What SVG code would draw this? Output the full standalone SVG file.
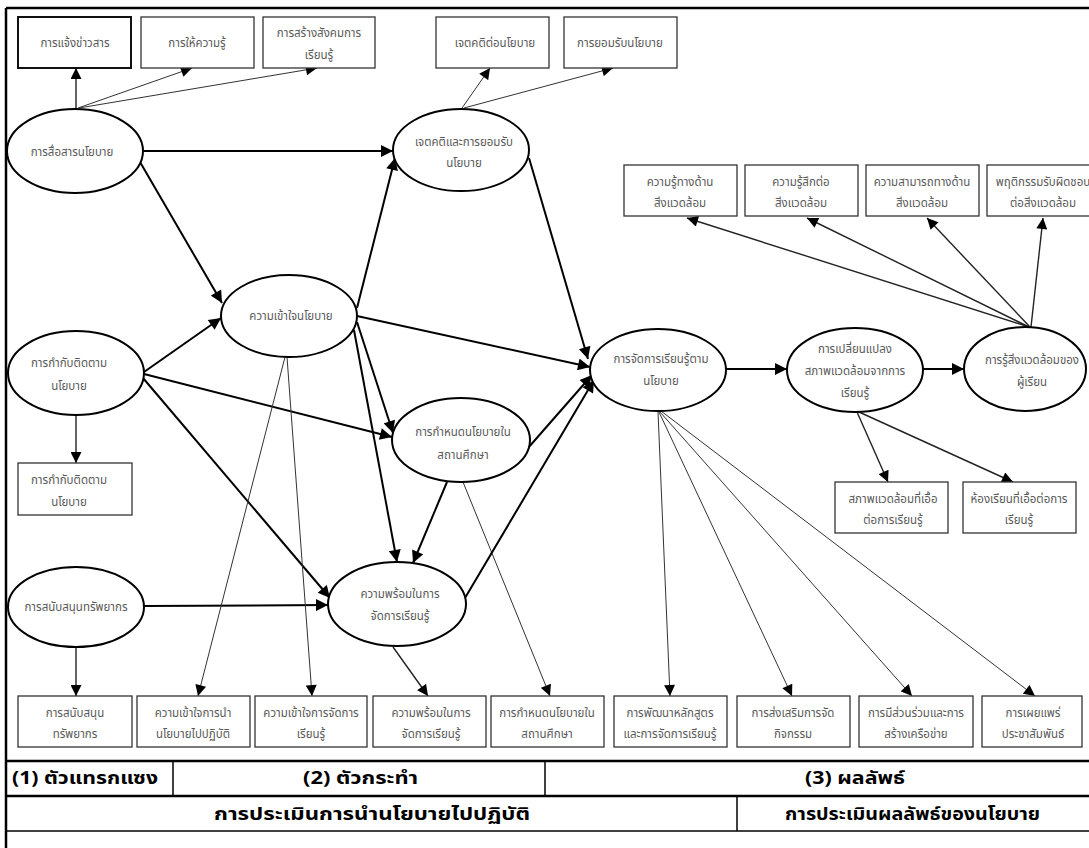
<svg xmlns="http://www.w3.org/2000/svg" width="1089" height="848" viewBox="0 0 1089 848">
<defs>
<marker id="ah" viewBox="0 0 10 10" refX="10" refY="5" markerWidth="13" markerHeight="12" markerUnits="userSpaceOnUse" orient="auto"><path d="M0,0 L10,5 L0,10 z" fill="#000"/></marker>
<marker id="ahs" viewBox="0 0 10 10" refX="10" refY="5" markerWidth="12" markerHeight="11" markerUnits="userSpaceOnUse" orient="auto"><path d="M0,0 L10,5 L0,10 z" fill="#000"/></marker>
</defs>
<style>
.bx{fill:#fff;stroke:#333;stroke-width:1.3}
.bx2{fill:#fff;stroke:#111;stroke-width:2}
.el{fill:#fff;stroke:#000;stroke-width:2}
.t{font-family:"Noto Sans Thai","Noto Sans","DejaVu Sans",sans-serif;font-size:11.5px;fill:#5a5a5a;text-anchor:middle}
.hd{font-family:"Noto Sans Thai","Noto Sans","DejaVu Sans",sans-serif;font-size:17px;font-weight:bold;fill:#000}
.k{stroke:#000;stroke-width:2;fill:none;marker-end:url(#ah)}
.m{stroke:#222;stroke-width:1.4;fill:none;marker-end:url(#ahs)}
.n{stroke:#333;stroke-width:1;fill:none;marker-end:url(#ahs)}
.fr{stroke:#000;stroke-width:2.5;fill:none}
.tl{stroke:#000;stroke-width:1.5;fill:none}
</style>
<rect x="0" y="0" width="1089" height="848" fill="#fff"/>
<g id="frame">
<line class="fr" x1="6" y1="8" x2="1089" y2="8"/>
<line class="fr" x1="6" y1="8" x2="6" y2="848"/>
</g>
<g id="connectors">
<line class="m" x1="76" y1="108" x2="76" y2="68"/>
<line class="n" x1="78" y1="108" x2="192" y2="68"/>
<line class="n" x1="79" y1="108" x2="317" y2="68"/>
<line class="n" x1="462" y1="108" x2="490" y2="68"/>
<line class="n" x1="464" y1="108" x2="613" y2="68"/>
<line class="k" x1="144" y1="151" x2="393" y2="151"/>
<line class="k" x1="140" y1="162" x2="222" y2="303"/>
<line class="k" x1="144" y1="372" x2="221" y2="318"/>
<line class="k" x1="144" y1="374" x2="392" y2="437"/>
<line class="k" x1="143" y1="378" x2="330" y2="598"/>
<line class="m" x1="76" y1="415" x2="76" y2="463"/>
<line class="k" x1="144" y1="606" x2="328" y2="605"/>
<line class="m" x1="76" y1="648" x2="76" y2="696"/>
<line class="k" x1="357" y1="308" x2="395" y2="158"/>
<line class="k" x1="357" y1="316" x2="590" y2="367"/>
<line class="k" x1="357" y1="322" x2="393" y2="433"/>
<line class="k" x1="354" y1="330" x2="397" y2="562"/>
<line class="n" x1="285" y1="357" x2="198" y2="696"/>
<line class="n" x1="287" y1="357" x2="312" y2="696"/>
<line class="k" x1="529" y1="158" x2="588" y2="359"/>
<line class="k" x1="528" y1="448" x2="592" y2="375"/>
<line class="k" x1="447" y1="482" x2="413" y2="563"/>
<line class="n" x1="463" y1="482" x2="550" y2="696"/>
<line class="k" x1="465" y1="598" x2="594" y2="380"/>
<line class="m" x1="393" y1="647" x2="428" y2="696"/>
<line class="n" x1="658" y1="412" x2="670" y2="696"/>
<line class="n" x1="659" y1="412" x2="792" y2="696"/>
<line class="n" x1="660" y1="412" x2="912" y2="696"/>
<line class="n" x1="661" y1="411" x2="1035" y2="696"/>
<line class="k" x1="726" y1="369" x2="787" y2="369"/>
<line class="k" x1="923" y1="369" x2="964" y2="369"/>
<line class="m" x1="857" y1="412" x2="888" y2="482"/>
<line class="m" x1="859" y1="412" x2="1013" y2="482"/>
<line class="m" x1="1029" y1="327" x2="687" y2="218"/>
<line class="m" x1="1029" y1="327" x2="807" y2="218"/>
<line class="m" x1="1030" y1="327" x2="927" y2="218"/>
<line class="m" x1="1031" y1="327" x2="1043" y2="218"/>
</g>
<g id="n-inform"><rect class="bx2" x="18" y="17" width="113" height="51"/><text class="t" x="75" y="47">การแจ้งข่าวสาร</text></g>
<g id="n-knowledge"><rect class="bx" x="141" y="17" width="113" height="51"/><text class="t" x="197" y="47">การให้ความรู้</text></g>
<g id="n-society"><rect class="bx" x="263" y="17" width="112" height="51"/><text class="t" x="319" y="37">การสร้างสังคมการ</text><text class="t" x="319" y="59">เรียนรู้</text></g>
<g id="n-attitude-box"><rect class="bx" x="436" y="17" width="113" height="51"/><text class="t" x="495" y="47">เจตคติต่อนโยบาย</text></g>
<g id="n-accept-box"><rect class="bx" x="564" y="17" width="113" height="51"/><text class="t" x="620" y="47">การยอมรับนโยบาย</text></g>
<g id="n-comm"><ellipse class="el" cx="75" cy="151" rx="68" ry="42"/><text class="t" x="72" y="156">การสื่อสารนโยบาย</text></g>
<g id="n-attitude"><ellipse class="el" cx="461" cy="150" rx="68" ry="41"/><text class="t" x="464" y="146">เจตคติและการยอมรับ</text><text class="t" x="464" y="167">นโยบาย</text></g>
<g id="n-env1"><rect class="bx" x="624" y="165" width="113" height="51"/><text class="t" x="680" y="186">ความรู้ทางด้าน</text><text class="t" x="680" y="207">สิ่งแวดล้อม</text></g>
<g id="n-env2"><rect class="bx" x="745" y="165" width="113" height="51"/><text class="t" x="801" y="186">ความรู้สึกต่อ</text><text class="t" x="801" y="207">สิ่งแวดล้อม</text></g>
<g id="n-env3"><rect class="bx" x="866" y="165" width="113" height="51"/><text class="t" x="922" y="186">ความสามารถทางด้าน</text><text class="t" x="922" y="207">สิ่งแวดล้อม</text></g>
<g id="n-env4"><rect class="bx" x="987" y="165" width="113" height="51"/><text class="t" x="1043" y="186">พฤติกรรมรับผิดชอบ</text><text class="t" x="1043" y="207">ต่อสิ่งแวดล้อม</text></g>
<g id="n-understand"><ellipse class="el" cx="289" cy="316" rx="68" ry="41"/><text class="t" x="291" y="320">ความเข้าใจนโยบาย</text></g>
<g id="n-monitor"><ellipse class="el" cx="76" cy="373" rx="68" ry="42"/><text class="t" x="69" y="367">การกำกับติดตาม</text><text class="t" x="69" y="390">นโยบาย</text></g>
<g id="n-manage"><ellipse class="el" cx="658" cy="370" rx="68" ry="41"/><text class="t" x="661" y="363">การจัดการเรียนรู้ตาม</text><text class="t" x="661" y="385">นโยบาย</text></g>
<g id="n-change"><ellipse class="el" cx="855" cy="370" rx="68" ry="42"/><text class="t" x="855" y="353">การเปลี่ยนแปลง</text><text class="t" x="855" y="375">สภาพแวดล้อมจากการ</text><text class="t" x="855" y="397">เรียนรู้</text></g>
<g id="n-aware"><ellipse class="el" cx="1025" cy="369" rx="61" ry="42"/><text class="t" x="1032" y="364">การรู้สิ่งแวดล้อมของ</text><text class="t" x="1032" y="386">ผู้เรียน</text></g>
<g id="n-policy"><ellipse class="el" cx="461" cy="440" rx="69" ry="42"/><text class="t" x="463" y="436">การกำหนดนโยบายใน</text><text class="t" x="463" y="459">สถานศึกษา</text></g>
<g id="n-monitor-box"><rect class="bx" x="18" y="463" width="114" height="52"/><text class="t" x="69" y="484">การกำกับติดตาม</text><text class="t" x="69" y="506">นโยบาย</text></g>
<g id="n-env5"><rect class="bx" x="835" y="482" width="113" height="51"/><text class="t" x="893" y="503">สภาพแวดล้อมที่เอื้อ</text><text class="t" x="893" y="524">ต่อการเรียนรู้</text></g>
<g id="n-env6"><rect class="bx" x="963" y="482" width="113" height="51"/><text class="t" x="1019" y="503">ห้องเรียนที่เอื้อต่อการ</text><text class="t" x="1019" y="524">เรียนรู้</text></g>
<g id="n-ready"><ellipse class="el" cx="397" cy="604" rx="69" ry="42"/><text class="t" x="400" y="598">ความพร้อมในการ</text><text class="t" x="400" y="620">จัดการเรียนรู้</text></g>
<g id="n-support"><ellipse class="el" cx="76" cy="607" rx="68" ry="40"/><text class="t" x="76" y="611">การสนับสนุนทรัพยากร</text></g>
<g id="n-b1"><rect class="bx" x="18" y="696" width="114" height="51"/><text class="t" x="75" y="717">การสนับสนุน</text><text class="t" x="75" y="738">ทรัพยากร</text></g>
<g id="n-b2"><rect class="bx" x="137" y="696" width="113" height="51"/><text class="t" x="193" y="717">ความเข้าใจการนำ</text><text class="t" x="193" y="738">นโยบายไปปฏิบัติ</text></g>
<g id="n-b3"><rect class="bx" x="255" y="696" width="112" height="51"/><text class="t" x="311" y="717">ความเข้าใจการจัดการ</text><text class="t" x="311" y="738">เรียนรู้</text></g>
<g id="n-b4"><rect class="bx" x="373" y="696" width="113" height="51"/><text class="t" x="431" y="717">ความพร้อมในการ</text><text class="t" x="431" y="738">จัดการเรียนรู้</text></g>
<g id="n-b5"><rect class="bx" x="491" y="696" width="113" height="51"/><text class="t" x="547" y="717">การกำหนดนโยบายใน</text><text class="t" x="547" y="738">สถานศึกษา</text></g>
<g id="n-b6"><rect class="bx" x="614" y="696" width="113" height="51"/><text class="t" x="670" y="717">การพัฒนาหลักสูตร</text><text class="t" x="670" y="738">และการจัดการเรียนรู้</text></g>
<g id="n-b7"><rect class="bx" x="737" y="696" width="113" height="51"/><text class="t" x="793" y="717">การส่งเสริมการจัด</text><text class="t" x="793" y="738">กิจกรรม</text></g>
<g id="n-b8"><rect class="bx" x="859" y="696" width="114" height="51"/><text class="t" x="916" y="717">การมีส่วนร่วมและการ</text><text class="t" x="916" y="738">สร้างเครือข่าย</text></g>
<g id="n-b9"><rect class="bx" x="982" y="696" width="100" height="51"/><text class="t" x="1033" y="717">การเผยแพร่</text><text class="t" x="1033" y="738">ประชาสัมพันธ์</text></g>
<g id="table">
<line class="fr" x1="6" y1="761" x2="1089" y2="761"/>
<line class="fr" x1="6" y1="796" x2="1089" y2="796"/>
<line class="tl" x1="6" y1="831" x2="1089" y2="831"/>
<line class="tl" x1="173" y1="761" x2="173" y2="796"/>
<line class="tl" x1="545" y1="761" x2="545" y2="796"/>
<line class="tl" x1="737" y1="796" x2="737" y2="831"/>
<text class="hd" x="12" y="784" textLength="146" lengthAdjust="spacingAndGlyphs">(1) ตัวแทรกแซง</text>
<text class="hd" x="303" y="784" textLength="115" lengthAdjust="spacingAndGlyphs">(2) ตัวกระทำ</text>
<text class="hd" x="805" y="784" textLength="100" lengthAdjust="spacingAndGlyphs">(3) ผลลัพธ์</text>
<text class="hd" x="214" y="820" textLength="316" lengthAdjust="spacingAndGlyphs">การประเมินการนำนโยบายไปปฏิบัติ</text>
<text class="hd" x="785" y="820" textLength="255" lengthAdjust="spacingAndGlyphs">การประเมินผลลัพธ์ของนโยบาย</text>
</g>
</svg>
